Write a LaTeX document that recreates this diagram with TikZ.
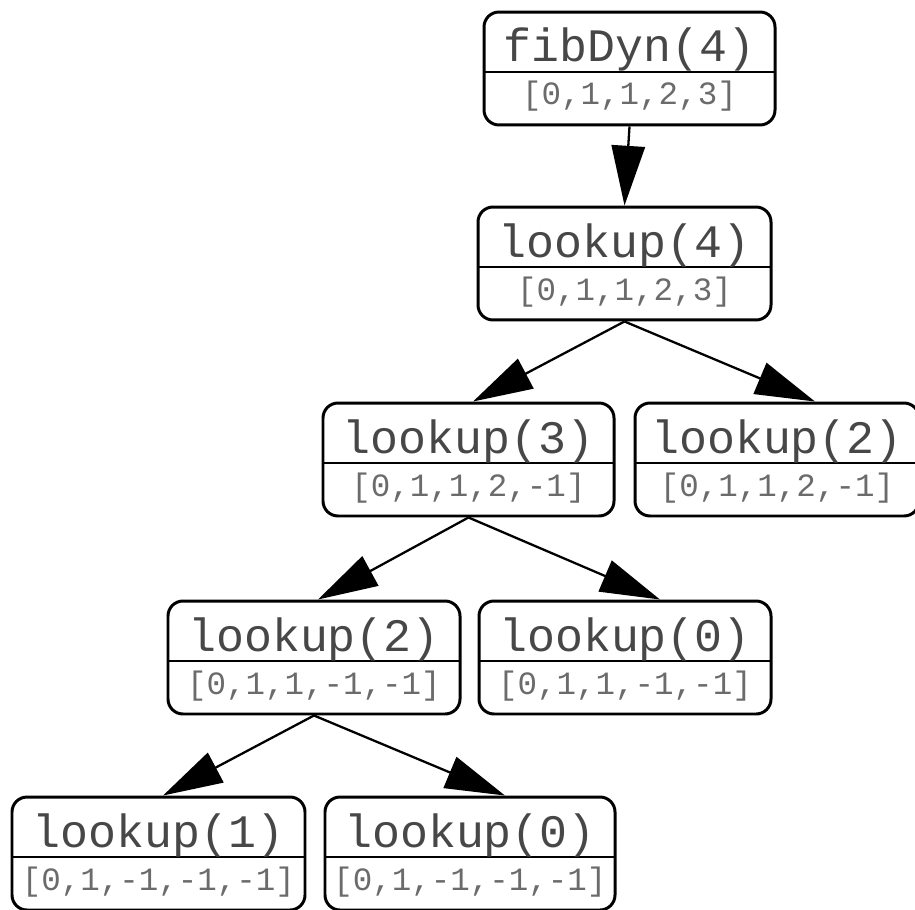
\documentclass[tikz,border=0pt]{standalone}
\usepackage{fontspec}
\setmonofont{Liberation Mono}
\usetikzlibrary{arrows.meta,calc}
\tikzset{
  recbox/.style={draw=black, line width=1.7pt, rounded corners=0.3cm, inner sep=0pt,
    minimum height=2.26cm, fill=white},
  divline/.style={draw=black, line width=1.2pt},
  titletxt/.style={inner sep=0pt, font=\ttfamily\fontsize{26.5}{26.5}\selectfont, text=black!72},
  arrtxt/.style={inner sep=0pt, font=\ttfamily\fontsize{18.5}{18.5}\selectfont, text=black!58},
  edge/.style={draw=black, line width=1.3pt, -{Triangle[length=34pt,width=19pt]}}
}
% name, center x, top y, width, title, array
\newcommand{\recbox}[6]{%
  \node[recbox, minimum width={#4*0.02cm}] (#1) at (#2,#3+56.5) {};
  \draw[divline] (#2-#4/2,#3+60) -- (#2+#4/2,#3+60);
  \node[titletxt, anchor=base] (#1-t) at (#2,#3+50) {#5};
  \node[arrtxt, anchor=base] (#1-a) at (#2,#3+93) {#6};
}
\begin{document}
\begin{tikzpicture}[x=0.02cm, y=-0.02cm]
  \useasboundingbox (0,0) rectangle (915,909);
  \recbox{fib}{629.5}{12}{291}{fibDyn(4)}{[0,1,1,2,3]}
  \recbox{l4}{624.5}{207}{293}{lookup(4)}{[0,1,1,2,3]}
  \recbox{l3}{468.5}{403}{291}{lookup(3)}{[0,1,1,2,-1]}
  \recbox{l2r}{777}{403}{284}{lookup(2)}{[0,1,1,2,-1]}
  \recbox{l2}{314}{601}{292}{lookup(2)}{[0,1,1,-1,-1]}
  \recbox{l0}{625}{601}{292}{lookup(0)}{[0,1,1,-1,-1]}
  \recbox{l1}{158.5}{797}{293}{lookup(1)}{[0,1,-1,-1,-1]}
  \recbox{l0b}{470}{797}{290}{lookup(0)}{[0,1,-1,-1,-1]}

  \draw[edge] (fib.south) -- (l4.north);
  \draw[edge] (l4.south) -- ([xshift=0.09cm]l3.north);
  \draw[edge] (l4.south) -- ([xshift=0.76cm]l2r.north);
  \draw[edge] (l3.south) -- ([xshift=0.08cm]l2.north);
  \draw[edge] (l3.south) -- ([xshift=0.7cm]l0.north);
  \draw[edge] (l2.south) -- ([xshift=0.09cm]l1.north);
  \draw[edge] (l2.south) -- ([xshift=0.7cm]l0b.north);
\end{tikzpicture}
\end{document}
